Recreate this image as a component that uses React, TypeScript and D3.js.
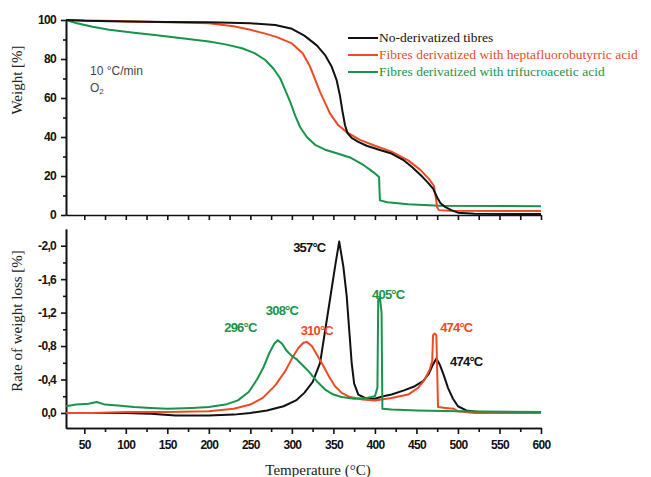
import React, { useRef, useEffect } from 'react';
import * as d3 from 'd3';

// temperature axis
const tempTicks = [50, 100, 150, 200, 250, 300, 350, 400, 450, 500, 550, 600];
const tempMinor = [75, 125, 175, 225, 275, 325, 375, 425, 475, 525, 575];
const weightTicks = [0, 20, 40, 60, 80, 100];
const weightMinor = [10, 30, 50, 70, 90];
const rateTicks = [0, -0.4, -0.8, -1.2, -1.6, -2.0];
const rateMinor = [-0.2, -0.6, -1.0, -1.4, -1.8];

const seriesNames = [
  'No-derivatized tibres',
  'Fibres derivatized with heptafluorobutyrric acid',
  'Fibres derivatized with trifucroacetic acid',
];
const seriesColors = ['#111111', '#ee4a26', '#17944a'];

// TGA: [temperature, weight %]
const tgaBlack: [number, number][] = [
  [28, 100], [50, 99.6], [100, 99.2], [150, 99], [200, 98.8], [250, 98.3], [280, 97.4],
  [300, 95.5], [315, 92], [330, 87], [340, 82], [348, 76], [354, 69], [358, 61], [361, 53],
  [364, 46], [367, 42], [372, 39.5], [380, 37.5], [390, 35.5], [405, 33.5], [420, 31.5],
  [435, 28], [445, 24.5], [455, 20.5], [463, 17], [470, 13.5], [475, 9], [479, 6], [485, 4],
  [492, 2.5], [500, 1.2], [520, 0.6], [600, 0.5],
];
const tgaRed: [number, number][] = [
  [28, 100], [100, 99.3], [150, 98.9], [200, 98.3], [230, 96.8], [250, 95], [268, 93],
  [282, 91.2], [300, 88], [313, 83], [322, 76], [334, 63], [346, 52], [356, 46], [366, 42.5],
  [382, 38.5], [400, 35.5], [420, 32.5], [440, 28], [455, 23], [465, 18.5], [471, 15],
  [473, 10], [475, 4], [477, 2.5], [490, 2.2], [600, 2],
];
const tgaGreen: [number, number][] = [
  [28, 100], [40, 98.5], [60, 96.5], [80, 95], [110, 93.5], [140, 92], [170, 90.5],
  [200, 89], [220, 87.5], [240, 85.5], [255, 83], [268, 79.5], [278, 75], [286, 70],
  [292, 64], [298, 58], [304, 51], [310, 45], [318, 40], [328, 36], [340, 33.5], [355, 31.5],
  [370, 29.5], [385, 26], [398, 22], [405, 19.5], [406, 7.5], [415, 6.5], [440, 5.5],
  [478, 4.7], [600, 4.5],
];

// DTG: [temperature, rate of weight loss %]
const dtgBlack: [number, number][] = [
  [28, 0], [60, 0], [100, 0], [130, 0.01], [160, 0.03], [200, 0.03], [230, 0.02], [250, 0],
  [270, -0.03], [290, -0.08], [305, -0.15], [315, -0.24], [325, -0.37], [334, -0.6],
  [345, -1.3], [352, -1.75], [357, -2.05], [362, -1.75], [366, -1.4], [369, -1.0],
  [372, -0.6], [375, -0.35], [380, -0.22], [390, -0.17], [400, -0.17], [410, -0.2],
  [420, -0.22], [435, -0.27], [448, -0.32], [458, -0.38], [465, -0.47], [470, -0.58],
  [474, -0.65], [478, -0.58], [483, -0.45], [488, -0.3], [494, -0.17], [500, -0.08],
  [510, -0.03], [525, -0.01], [600, 0],
];
const dtgRed: [number, number][] = [
  [28, 0], [60, 0], [100, -0.01], [150, -0.01], [200, -0.02], [230, -0.05], [250, -0.1],
  [265, -0.18], [280, -0.33], [292, -0.5], [300, -0.65], [308, -0.78], [314, -0.84],
  [318, -0.85], [324, -0.8], [330, -0.7], [337, -0.58], [345, -0.43], [352, -0.32],
  [360, -0.24], [370, -0.19], [385, -0.16], [400, -0.15], [420, -0.18], [440, -0.22],
  [452, -0.3], [460, -0.4], [466, -0.52], [469, -0.62], [470, -0.93], [472, -0.95],
  [474, -0.93], [475, -0.5], [476, -0.07], [485, -0.06], [495, -0.05], [500, -0.02],
  [520, 0], [600, 0],
];
const dtgGreen: [number, number][] = [
  [28, -0.08], [40, -0.1], [55, -0.11], [65, -0.13], [75, -0.1], [90, -0.09], [110, -0.07],
  [130, -0.06], [150, -0.05], [180, -0.06], [200, -0.07], [220, -0.1], [235, -0.15],
  [248, -0.25], [258, -0.4], [266, -0.55], [273, -0.72], [279, -0.83], [283, -0.87],
  [288, -0.83], [294, -0.74], [300, -0.68], [306, -0.64], [312, -0.58], [320, -0.5],
  [330, -0.38], [340, -0.28], [350, -0.22], [360, -0.19], [375, -0.17], [390, -0.18],
  [400, -0.2], [403, -0.3], [404, -1.35], [406, -1.38], [408, -1.2], [409, -0.05],
  [420, -0.04], [450, -0.03], [500, -0.02], [600, -0.01],
];

// peak annotations: text, temperature, rate (anchor of label centre), series index
const peakText = ['357°C', '405°C', '308°C', '296°C', '310°C', '474°C', '474°C'];
const peakT = [321, 416, 288, 238, 330, 498, 510];
const peakR = [-1.98, -1.42, -1.22, -1.02, -0.99, -1.02, -0.62];
const peakSeries = [0, 2, 2, 2, 1, 1, 0];

export default function App() {
  const ref = useRef<SVGSVGElement>(null);

  useEffect(() => {
    const svg = d3.select(ref.current);
    svg.selectAll('*').remove();

    const x = d3.scaleLinear().domain([28, 600]).range([66, 541]);
    const yW = d3.scaleLinear().domain([0, 100]).range([215, 20]);
    const yR = d3.scaleLinear().domain([0.18, -2.2]).range([428, 229]);

    const loc = d3.formatLocale({ decimal: ',', thousands: '.', grouping: [3], currency: ['', ''], minus: '-' });
    const fmt = loc.format('.1f');

    const tickFont = (g: any) => {
      g.selectAll('text')
        .attr('font-family', '"Liberation Sans", Arial, sans-serif')
        .attr('font-weight', 'bold')
        .attr('font-size', 12)
        .attr('letter-spacing', -0.7)
        .attr('fill', '#111');
      g.selectAll('line').attr('stroke', '#111').attr('stroke-width', 1.6);
      g.select('.domain').attr('stroke', '#111').attr('stroke-width', 1.6);
    };

    // top panel axes
    svg.append('g').attr('transform', 'translate(0,215)')
      .call(d3.axisBottom(x).tickValues(tempTicks.concat(tempMinor)).tickSize(5).tickSizeOuter(0).tickFormat(() => ''))
      .call(tickFont);
    svg.append('g').attr('transform', 'translate(66,0)')
      .call(d3.axisLeft(yW).tickValues(weightTicks).tickSize(5).tickSizeOuter(0).tickPadding(5))
      .call(tickFont);
    svg.append('g').attr('transform', 'translate(66,0)')
      .call(d3.axisLeft(yW).tickValues(weightMinor).tickSize(3).tickSizeOuter(0).tickFormat(() => ''))
      .call(tickFont);

    // bottom panel axes
    svg.append('g').attr('transform', 'translate(0,428)')
      .call(d3.axisBottom(x).tickValues(tempTicks).tickSize(6).tickSizeOuter(0).tickPadding(6))
      .call(tickFont);
    svg.append('g').attr('transform', 'translate(0,428)')
      .call(d3.axisBottom(x).tickValues(tempMinor).tickSize(4).tickSizeOuter(0).tickFormat(() => ''))
      .call(tickFont);
    svg.append('g').attr('transform', 'translate(66,0)')
      .call(d3.axisLeft(yR).tickValues(rateTicks).tickSize(5).tickSizeOuter(0).tickPadding(5)
        .tickFormat((d: any) => fmt(d)))
      .call(tickFont);
    svg.append('g').attr('transform', 'translate(66,0)')
      .call(d3.axisLeft(yR).tickValues(rateMinor).tickSize(3).tickSizeOuter(0).tickFormat(() => ''))
      .call(tickFont);

    // curves
    const lineW = d3.line<[number, number]>().x(d => x(d[0])).y(d => yW(d[1]));
    const lineR = d3.line<[number, number]>().x(d => x(d[0])).y(d => yR(d[1]));
    const tga = [tgaBlack, tgaRed, tgaGreen];
    const dtg = [dtgBlack, dtgRed, dtgGreen];
    [2, 1, 0].forEach(i => {
      svg.append('path').attr('d', lineW(tga[i])).attr('fill', 'none')
        .attr('stroke', seriesColors[i]).attr('stroke-width', 2).attr('stroke-linejoin', 'round');
    });
    [0, 1, 2].forEach(i => {
      svg.append('path').attr('d', lineR(dtg[i])).attr('fill', 'none')
        .attr('stroke', seriesColors[i]).attr('stroke-width', 2).attr('stroke-linejoin', 'round');
    });

    // peak labels
    peakText.forEach((t, i) => {
      svg.append('text')
        .attr('x', x(peakT[i])).attr('y', yR(peakR[i]))
        .attr('text-anchor', 'middle').attr('dominant-baseline', 'central')
        .attr('font-family', '"Liberation Sans", Arial, sans-serif')
        .attr('font-weight', 'bold').attr('font-size', 13).attr('letter-spacing', -0.8)
        .attr('fill', seriesColors[peakSeries[i]])
        .text(t);
    });

    // legend
    const leg = svg.append('g');
    seriesNames.forEach((n, i) => {
      const yy = 37 + i * 17;
      leg.append('line').attr('x1', 348).attr('x2', 378).attr('y1', yy + 1).attr('y2', yy + 1)
        .attr('stroke', seriesColors[i]).attr('stroke-width', 2);
      leg.append('text').attr('x', 379).attr('y', yy).attr('dominant-baseline', 'central')
        .attr('font-family', '"Liberation Serif", "Times New Roman", serif').attr('font-size', 13.5)
        .attr('fill', seriesColors[i]).text(n);
    });

    // conditions
    svg.append('text').attr('x', 90).attr('y', 71).attr('dominant-baseline', 'central')
      .attr('font-family', '"Liberation Sans", Arial, sans-serif').attr('font-size', 12)
      .attr('fill', '#444').text('10 °C/min');
    const o2 = svg.append('text').attr('x', 90).attr('y', 88).attr('dominant-baseline', 'central')
      .attr('font-family', '"Liberation Sans", Arial, sans-serif').attr('font-size', 12).attr('fill', '#444');
    o2.append('tspan').text('O');
    o2.append('tspan').attr('font-size', 8).attr('dy', 3).text('2');

    // axis titles
    const serif = '"Liberation Serif", "Times New Roman", serif';
    svg.append('text').attr('transform', 'translate(17,80) rotate(-90)')
      .attr('text-anchor', 'middle').attr('dominant-baseline', 'central')
      .attr('font-family', serif).attr('font-size', 15).attr('fill', '#222').text('Weight [%]');
    svg.append('text').attr('transform', 'translate(17,321) rotate(-90)')
      .attr('text-anchor', 'middle').attr('dominant-baseline', 'central')
      .attr('font-family', serif).attr('font-size', 15).attr('fill', '#222').text('Rate of weight loss [%]');
    svg.append('text').attr('x', 318).attr('y', 470)
      .attr('text-anchor', 'middle').attr('dominant-baseline', 'central')
      .attr('font-family', serif).attr('font-size', 15).attr('fill', '#222').text('Temperature (°C)');
  }, []);

  return (
    <svg ref={ref} width={651} height={477}
      style={{ position: 'absolute', left: 0, top: 0, background: '#fff' }} />
  );
}
